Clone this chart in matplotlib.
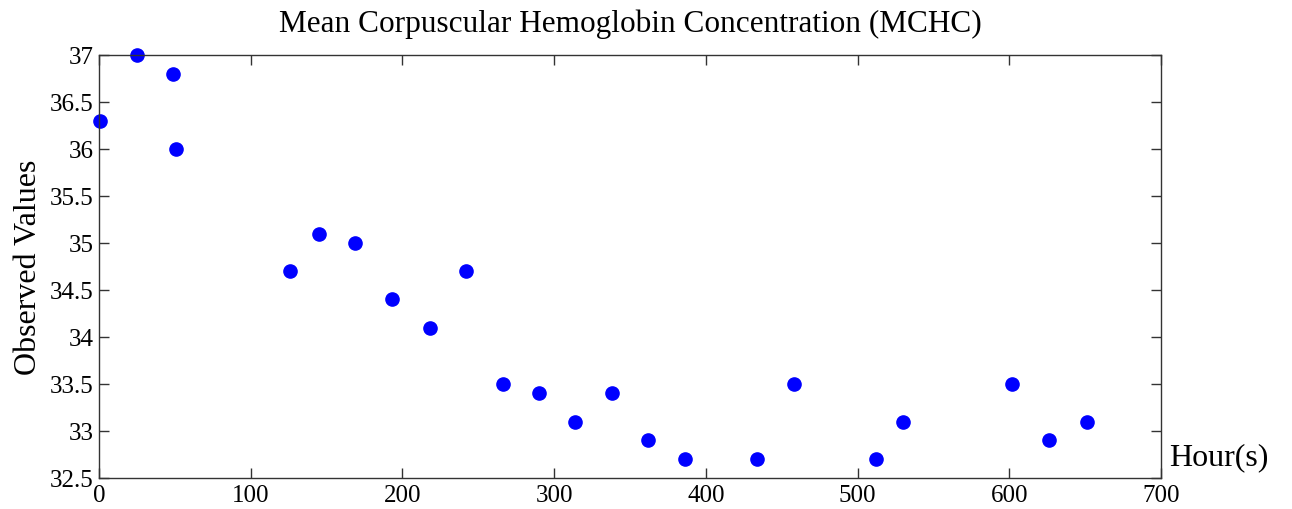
import matplotlib
matplotlib.use('Agg')
from matplotlib import pyplot as plt

# data
hours = [1, 25, 49, 51, 126, 145, 169, 193, 218, 242, 266, 290, 314, 338,
         362, 386, 434, 458, 512, 530, 602, 626, 651]
mchc = [36.3, 37.0, 36.8, 36.0, 34.7, 35.1, 35.0, 34.4, 34.1, 34.7, 33.5, 33.4,
        33.1, 33.4, 32.9, 32.7, 32.7, 33.5, 32.7, 33.1, 33.5, 32.9, 33.1]
x_ticks = [0, 100, 200, 300, 400, 500, 600, 700]
y_ticks = [32.5, 33, 33.5, 34, 34.5, 35, 35.5, 36, 36.5, 37]
y_labels = ['32.5', '33', '33.5', '34', '34.5', '35', '35.5', '36', '36.5', '37']

plt.rcParams['font.family'] = ['Liberation Serif', 'DejaVu Serif']

fig = plt.figure(figsize=(12.92, 5.10), dpi=100)
ax = fig.add_axes([0.0766, 0.0608, 0.8220, 0.8294])

ax.plot(hours, mchc, 'o', color='#0000ff', markersize=9.5, clip_on=False)

ax.set_xlim(0, 700)
ax.set_ylim(32.5, 37)
ax.set_xticks(x_ticks)
ax.set_yticks(y_ticks)
ax.set_yticklabels(y_labels)
ax.tick_params(direction='in', length=7, width=1, colors='#333333',
               labelcolor='black', labelsize=18, top=True, right=True, pad=4)
for s in ax.spines.values():
    s.set_color('#333333')
    s.set_linewidth(1)

ax.set_title('Mean Corpuscular Hemoglobin Concentration (MCHC)', fontsize=22.5, pad=17)
ax.set_ylabel('Observed Values', fontsize=23, labelpad=5)
ax.text(1.008, 0.05, 'Hour(s)', transform=ax.transAxes, fontsize=23,
        ha='left', va='center')

fig.savefig('out.png', dpi=100)
